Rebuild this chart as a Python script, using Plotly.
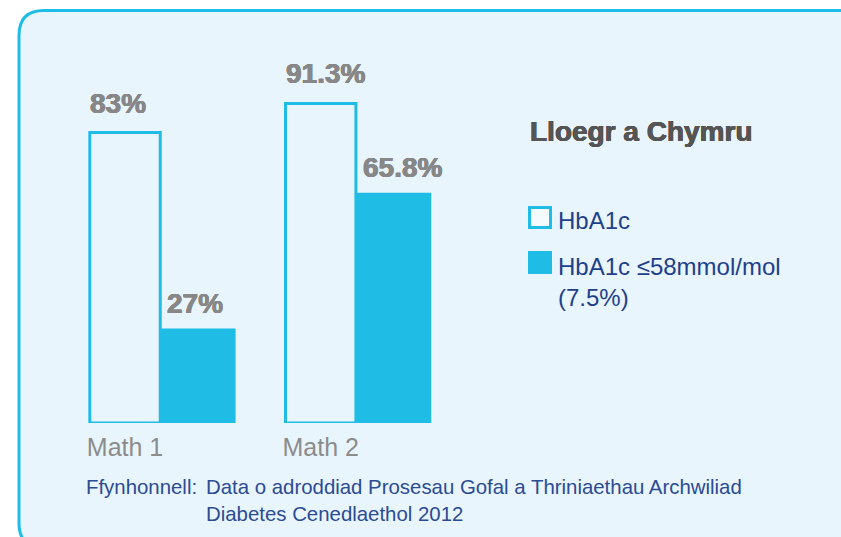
import plotly.graph_objects as go

# ---- data ----
categories = ["Math 1", "Math 2"]
hba1c = [83, 91.3]
hba1c_target = [27, 65.8]
labels_hba1c = ["83%", "91.3%"]
labels_target = ["27%", "65.8%"]
series_names = ["HbA1c", "HbA1c ≤58mmol/mol<br>(7.5%)"]
legend_title = "Lloegr a Chymru"
source_head = "Ffynhonnell:"
source_body = "Data o adroddiad Prosesau Gofal a Thriniaethau Archwiliad<br>Diabetes Cenedlaethol 2012"

# ---- style ----
W, H = 841, 537
T, B = 73, 114
PH = H - T - B
CYAN = "#1FBCE6"
BG = "#E9F5FD"
GREY = "#878787"
NAVY = "#1F3F8B"

def px(x):
    return x / W

def py(y):
    return (H - B - y) / PH

def heavy(color, d=0.45):
    return ", ".join(f"{a}px {b}px 0 {color}" for a, b in
                     [(d, 0), (-d, 0), (0, d), (0, -d)])

OFF_A, WID_A = -0.18, 0.36
OFF_B, WID_B = 0.175, 0.39

fig = go.Figure()
fig.add_trace(go.Bar(
    x=categories, y=hba1c, name="HbA1c", offset=OFF_A, width=WID_A,
    marker=dict(color=BG, line=dict(color=CYAN, width=3)),
    showlegend=False, hoverinfo="skip"))
fig.add_trace(go.Bar(
    x=categories, y=hba1c_target, name="HbA1c ≤58mmol/mol (7.5%)",
    offset=OFF_B, width=WID_B,
    marker=dict(color=CYAN, line=dict(width=0)),
    showlegend=False, hoverinfo="skip"))

annotations = []
lab_font = dict(family="Liberation Sans", size=28, color=GREY, weight="bold",
                shadow=heavy(GREY))
for i, (v, t) in enumerate(zip(hba1c, labels_hba1c)):
    annotations.append(dict(x=i + OFF_A - 0.008, y=v, xref="x", yref="y", text=t,
                            showarrow=False, xanchor="left", yanchor="bottom",
                            yshift=12, font=lab_font))
for i, (v, t) in enumerate(zip(hba1c_target, labels_target)):
    annotations.append(dict(x=i + OFF_B + 0.03, y=v, xref="x", yref="y", text=t,
                            showarrow=False, xanchor="left", yanchor="bottom",
                            yshift=8, font=lab_font))

# legend (drawn)
annotations.append(dict(x=px(528), y=py(131), xref="paper", yref="paper",
                        text=legend_title, showarrow=False, xanchor="left",
                        yanchor="middle",
                        font=dict(family="Liberation Sans", size=28, color="#555555",
                                  weight="bold", shadow=heavy("#555555"))))
annotations.append(dict(x=px(556), y=py(220), xref="paper", yref="paper",
                        text=series_names[0], showarrow=False, xanchor="left",
                        yanchor="middle", align="left",
                        font=dict(family="Liberation Sans", size=24, color=NAVY)))
annotations.append(dict(x=px(556), y=py(251), xref="paper", yref="paper",
                        text=series_names[1], showarrow=False, xanchor="left",
                        yanchor="top", align="left",
                        font=dict(family="Liberation Sans", size=24, color=NAVY)))
# source
src_font = dict(family="Liberation Sans", size=20.4, color="#2B4B93")
annotations.append(dict(x=px(84), y=py(474), xref="paper", yref="paper",
                        text=source_head, showarrow=False, xanchor="left",
                        yanchor="top", align="left", font=src_font))
annotations.append(dict(x=px(204), y=py(474), xref="paper", yref="paper",
                        text=source_body, showarrow=False, xanchor="left",
                        yanchor="top", align="left", font=src_font))

# rounded panel
x0, y0, x1, y1, r = 19, 10.5, 864, 548, 25
pts = [
    ("M", [(x0 + r, y0)]), ("L", [(x1 - r, y0)]), ("Q", [(x1, y0), (x1, y0 + r)]),
    ("L", [(x1, y1 - r)]), ("Q", [(x1, y1), (x1 - r, y1)]), ("L", [(x0 + r, y1)]),
    ("Q", [(x0, y1), (x0, y1 - r)]), ("L", [(x0, y0 + r)]), ("Q", [(x0, y0), (x0 + r, y0)]),
]
path = " ".join(c + " " + " ".join(f"{px(a):.5f},{py(b):.5f}" for a, b in p) for c, p in pts) + " Z"
shapes = [dict(type="path", path=path, xref="paper", yref="paper",
               fillcolor=BG, line=dict(color=CYAN, width=3), layer="below")]
shapes.append(dict(type="rect", xref="paper", yref="paper",
                   x0=px(529.5), x1=px(550.5), y0=py(207.5), y1=py(227.5),
                   fillcolor="#F5FAFD", line=dict(color=CYAN, width=3)))
shapes.append(dict(type="rect", xref="paper", yref="paper",
                   x0=px(528), x1=px(552), y0=py(251), y1=py(274),
                   fillcolor=CYAN, line=dict(width=0)))

fig.update_layout(
    width=W, height=H,
    margin=dict(l=0, r=0, t=T, b=B),
    paper_bgcolor="white", plot_bgcolor="rgba(0,0,0,0)",
    barmode="overlay",
    xaxis=dict(range=[-0.639, 3.659], showgrid=False, zeroline=False, showline=False,
               ticks="", tickfont=dict(family="Liberation Sans", size=25, color="#8C8C8C"),
               ticklabelstandoff=7),
    yaxis=dict(range=[0, 100], visible=False),
    annotations=annotations, shapes=shapes,
)
fig.write_html("out.html", config={"displayModeBar": False},
               post_script="document.body.style.margin='0';")
